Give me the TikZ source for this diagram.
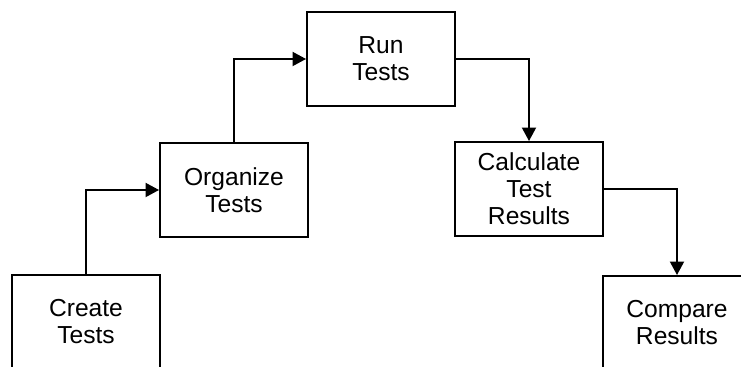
\documentclass[tikz,border=0pt]{standalone}
\usepackage{fontspec}
\setmainfont{Liberation Sans}
\usepackage{tikz}
\usetikzlibrary{arrows.meta,positioning}

\begin{document}
\begin{tikzpicture}[
    x=0.02cm, y=-0.02cm,
    stepbox/.style={rectangle, draw=black, line width=1.1pt, minimum width=2.96cm, minimum height=1.88cm, align=center, font=\fontsize{14}{15.4}\selectfont},
    arrow/.style={-{Triangle[length=0.27cm,width=0.28cm]}, line width=1.1pt}
]
    % picture frame, boxes at the corners run off the edge
    \useasboundingbox (0,0) rectangle (741,367);
    \clip (0,0) rectangle (741,367);

    % Steps
    \node[stepbox] (create) at (86,322) {Create\\Tests};
    \node[stepbox] (organize) at (234,190) {Organize\\Tests};
    \node[stepbox] (run) at (381,59) {Run\\Tests};
    \node[stepbox] (calc) at (529,189) {Calculate\\Test\\Results};
    \node[stepbox] (compare) at (677,323) {Compare\\Results};

    % Arrows - up the steps, then down
    \draw[arrow] (create.north) |- (organize.west);
    \draw[arrow] (organize.north) |- (run.west);
    \draw[arrow] (run.east) -| (calc.north);
    \draw[arrow] (calc.east) -| (compare.north);
\end{tikzpicture}
\end{document}
